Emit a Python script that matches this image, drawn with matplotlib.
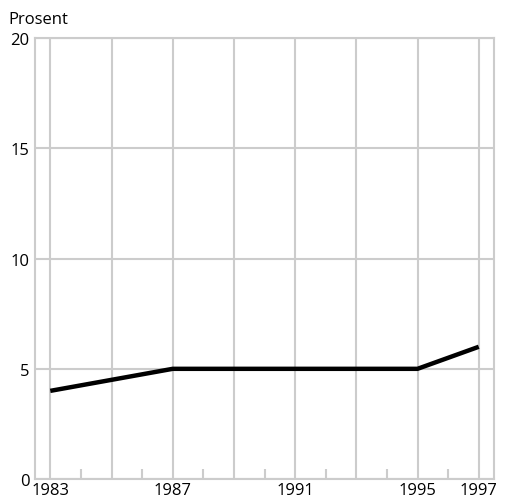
import matplotlib.pyplot as plt

plt.rcParams['font.family'] = ['Open Sans', 'DejaVu Sans']

years = [1983, 1987, 1995, 1997]
prosent = [4, 5, 5, 6]

grid_years = [1983, 1985, 1987, 1989, 1991, 1993, 1995, 1997]
label_years = [1983, 1987, 1991, 1995, 1997]
minor_years = [1984, 1986, 1988, 1990, 1992, 1994, 1996]
y_ticks = [0, 5, 10, 15, 20]

grey = '#cccccc'

fig = plt.figure(figsize=(5.05, 5.02), dpi=100)
ax = fig.add_axes([0.0693, 0.0438, 0.909, 0.878])

ax.plot(years, prosent, color='black', linewidth=3.2, solid_capstyle='butt', zorder=3)

ax.set_xlim(1982.5, 1997.5)
ax.set_ylim(0, 20)

ax.set_xticks(grid_years)
ax.set_xticklabels([str(y) if y in label_years else '' for y in grid_years])
ax.set_xticks(minor_years, minor=True)
ax.set_yticks(y_ticks)

ax.grid(True, which='major', color=grey, linewidth=1.5)
ax.tick_params(axis='both', which='major', length=0, labelsize=12, pad=4)
ax.tick_params(axis='x', which='minor', direction='in', length=7, width=1.5, color=grey)
ax.tick_params(axis='x', which='major', pad=2.5)

for s in ax.spines.values():
    s.set_color(grey)
    s.set_linewidth(1.5)

fig.text(0.016, 0.945, 'Prosent', fontsize=12, ha='left', va='bottom')

fig.savefig('out.png', dpi=100)
